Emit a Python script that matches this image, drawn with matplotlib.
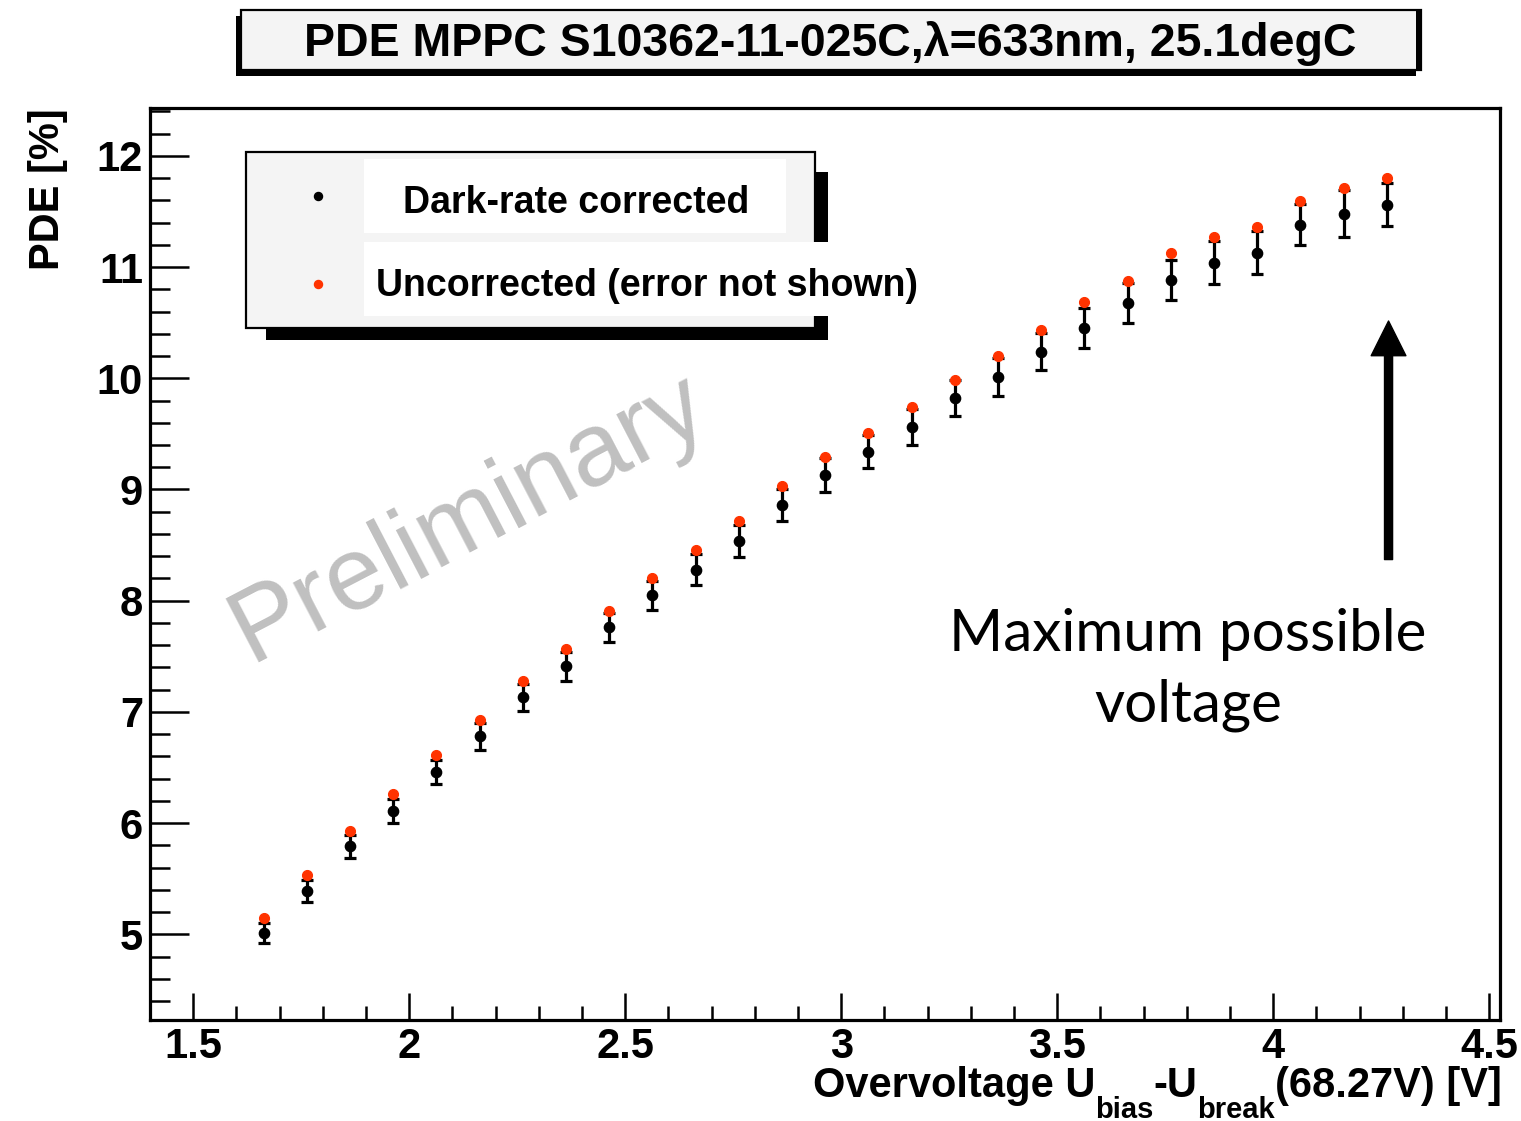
import matplotlib
matplotlib.use("Agg")
import matplotlib.pyplot as plt
from matplotlib import font_manager as fm
from matplotlib.patches import Rectangle
from matplotlib.lines import Line2D
from matplotlib.ticker import MultipleLocator

# ---------------- data ----------------
overvoltage = [1.663, 1.763, 1.863, 1.963, 2.063, 2.163, 2.263, 2.363, 2.463,
               2.563, 2.663, 2.763, 2.863, 2.963, 3.063, 3.163, 3.263, 3.363,
               3.463, 3.563, 3.663, 3.763, 3.863, 3.963, 4.063, 4.163, 4.263]
pde_corrected = [5.015, 5.39, 5.79, 6.11, 6.46, 6.78, 7.13, 7.41, 7.76,
                 8.05, 8.28, 8.54, 8.86, 9.13, 9.34, 9.56, 9.82, 10.01,
                 10.24, 10.45, 10.68, 10.88, 11.04, 11.13, 11.38, 11.48, 11.56]
pde_corrected_err = [0.09, 0.10, 0.10, 0.11, 0.11, 0.12, 0.12, 0.13, 0.13,
                     0.13, 0.14, 0.145, 0.14, 0.155, 0.15, 0.16, 0.16, 0.17,
                     0.165, 0.18, 0.18, 0.18, 0.19, 0.19, 0.186, 0.21, 0.195]
pde_uncorrected = [5.15, 5.53, 5.925, 6.26, 6.61, 6.93, 7.28, 7.57, 7.91,
                   8.20, 8.46, 8.72, 9.03, 9.29, 9.51, 9.74, 9.98, 10.20,
                   10.43, 10.69, 10.875, 11.13, 11.27, 11.36, 11.59, 11.71, 11.80]
xtick_values = [1.5, 2.0, 2.5, 3.0, 3.5, 4.0, 4.5]
xtick_labels = ["1.5", "2", "2.5", "3", "3.5", "4", "4.5"]
ytick_values = [5, 6, 7, 8, 9, 10, 11, 12]
ytick_labels = ["5", "6", "7", "8", "9", "10", "11", "12"]
legend_labels = ["Dark-rate corrected", "Uncorrected (error not shown)"]
title_text = "PDE MPPC S10362-11-025C,\u03bb=633nm, 25.1degC"
arrow_x = 4.267
arrow_tip_y = 10.515
arrow_tail_y = 8.37

# ---------------- fonts ----------------
names = {f.name for f in fm.fontManager.ttflist}
NARROW = "Liberation Sans Narrow" if "Liberation Sans Narrow" in names else "Liberation Sans"
SANS = "Liberation Sans"
HUMAN = "Lato" if "Lato" in names else "Open Sans"
RED = "#ff3300"

W, H = 1521, 1121
fig = plt.figure(figsize=(W / 100, H / 100), dpi=100)
fig.patch.set_facecolor("white")


def fx(x):
    return x / W


def fy(y):
    return 1 - y / H


ax = fig.add_axes([fx(150), fy(1020), (1500 - 150) / W, (1020 - 108) / H])
ax.set_xlim(1.40, 4.525)
ax.set_ylim(4.23, 12.43)

for s in ["top", "right", "left", "bottom"]:
    ax.spines[s].set_linewidth(2.3)
    ax.spines[s].set_color("black")

ax.set_xticks(xtick_values)
ax.set_xticklabels(xtick_labels)
ax.set_yticks(ytick_values)
ax.set_yticklabels(ytick_labels)
ax.xaxis.set_minor_locator(MultipleLocator(0.1))
ax.yaxis.set_minor_locator(MultipleLocator(0.2))
ax.tick_params(axis="x", which="major", direction="in", length=19.5, width=1.8,
               pad=5, labelsize=30, top=False)
ax.tick_params(axis="x", which="minor", direction="in", length=10, width=1.8, top=False)
ax.tick_params(axis="y", which="major", direction="in", length=28, width=1.8,
               pad=5, labelsize=30, right=False)
ax.tick_params(axis="y", which="minor", direction="in", length=14.4, width=1.8, right=False)
for lab in ax.get_xticklabels() + ax.get_yticklabels():
    lab.set_family(NARROW)
    lab.set_weight("bold")

# watermark
ax.text(fx(250), fy(662), "Preliminary", transform=fig.transFigure, rotation=27.5,
        rotation_mode="anchor", ha="left", va="baseline", fontsize=75,
        family=SANS, color="#c0c0c0", zorder=0)

# data
ax.errorbar(overvoltage, pde_corrected, yerr=pde_corrected_err, fmt="o",
            color="black", ms=7.4, elinewidth=2.3, capsize=4.4, capthick=2.3, zorder=3)
ax.plot(overvoltage, pde_uncorrected, "o", color=RED, ms=7.2, mec=RED, mew=0.8, zorder=4)

# arrow + annotation
ax.annotate("", xy=(arrow_x, arrow_tip_y), xytext=(arrow_x, arrow_tail_y),
            arrowprops=dict(arrowstyle="simple,head_length=0.5,head_width=0.5,tail_width=0.116",
                            mutation_scale=50, color="black", shrinkA=0, shrinkB=0))
fig.text(fx(1188), fy(651), "Maximum possible", ha="center", va="baseline",
         fontsize=42, family=HUMAN, color="black")
fig.text(fx(1188), fy(722), "voltage", ha="center", va="baseline",
         fontsize=42, family=HUMAN, color="black")

# y label
fig.text(fx(48), fy(108), "PDE [%]", rotation=90, ha="center", va="top",
         fontsize=30, family=SANS, weight="bold")


def rect(x0, y0, x1, y1, **kw):
    r = Rectangle((fx(x0), fy(y1)), fx(x1) - fx(x0), fy(y0) - fy(y1),
                  transform=fig.transFigure, **kw)
    fig.add_artist(r)
    return r


# ---------------- legend ----------------
rect(266, 172, 828, 340, facecolor="black", edgecolor="none", zorder=5)
rect(246, 152, 815, 328, facecolor="#f4f4f4", edgecolor="black", linewidth=1.6, zorder=6)
rect(364, 159, 786, 233, facecolor="white", edgecolor="none", zorder=7)
rect(364, 242, 915, 316, facecolor="white", edgecolor="none", zorder=7)
fig.add_artist(Line2D([fx(318)], [fy(196)], transform=fig.transFigure, marker="o",
                      color="black", ms=5.8, ls="none", zorder=8))
fig.add_artist(Line2D([fx(318)], [fy(284)], transform=fig.transFigure, marker="o",
                      color=RED, ms=5.8, mec=RED, ls="none", zorder=8))
fig.text(fx(576), fy(213), legend_labels[0], ha="center", va="baseline", fontsize=27,
         family=SANS, weight="bold", zorder=9)
fig.text(fx(376), fy(296), legend_labels[1], ha="left", va="baseline", fontsize=27,
         family=SANS, weight="bold", zorder=9)

# ---------------- title box ----------------
rect(236, 16, 1416, 76, facecolor="black", edgecolor="none", zorder=5)
rect(241, 10, 1421, 70, facecolor="#f4f4f4", edgecolor="black", linewidth=1.6, zorder=6)
rect(1416, 10, 1422, 70, facecolor="black", edgecolor="none", zorder=7)
fig.text(fx(830), fy(56), title_text, ha="center", va="baseline", fontsize=33.5,
         family=NARROW, weight="bold", zorder=9)

# ---------------- x label with subscripts ----------------
fig.canvas.draw()
renderer = fig.canvas.get_renderer()
segments = [("Overvoltage U", 30, 0), ("bias", 21, 21), ("-U", 30, 0),
            ("break", 21, 21), ("(68.27V) [V]", 30, 0)]
widths = []
for txt, size, _ in segments:
    t = fig.text(0, 0, txt, fontsize=size, family=NARROW, weight="bold")
    widths.append(t.get_window_extent(renderer).width)
    t.remove()
xpos = 1502 - sum(widths)
for (txt, size, drop), w in zip(segments, widths):
    fig.text(fx(xpos), fy(1097 + drop), txt, ha="left", va="baseline", fontsize=size,
             family=NARROW, weight="bold")
    xpos += w

fig.savefig("out.png", dpi=100)
